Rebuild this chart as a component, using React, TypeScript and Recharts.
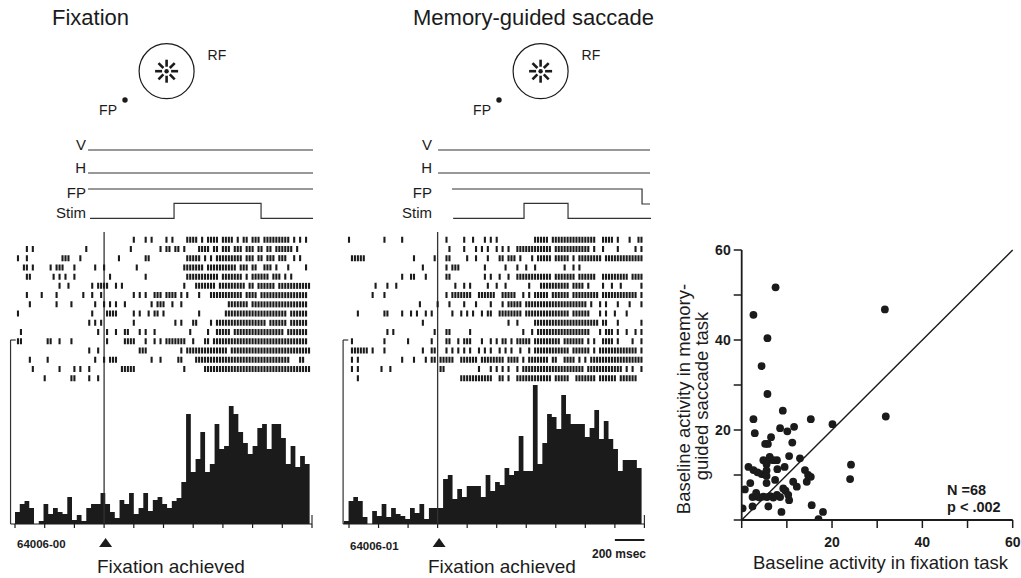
import {
  Area,
  ComposedChart,
  Line,
  LineChart,
  ReferenceDot,
  ReferenceLine,
  Scatter,
  ScatterChart,
  XAxis,
  YAxis,
} from "recharts";

const INK = "#1b1b1b";
const FONT = '"Liberation Sans", Arial, Helvetica, sans-serif';

const timeTicks = [-600, -400, -200, 0, 200, 400, 600, 800, 1000, 1200, 1400];

// peri-stimulus histograms, 32 ms bins
const histBinMs = 32;
const fixHistStart = -600;
const fixHist = [
  12, 20, 23, 16, 0, 3, 20, 10, 16, 12, 10, 27, 4, 9, 3, 16, 20, 20, 31, 20, 12, 6, 24, 20, 31, 10, 16,
  31, 13, 24, 27, 20, 16, 23, 26, 42, 110, 52, 65, 92, 52, 60, 100, 75, 78, 118, 110, 92, 81, 70, 78, 96,
  100, 75, 100, 100, 86, 60, 78, 57, 68, 60,
];
const memHistStart = -635;
const memHist = [
  3, 23, 27, 23, 7, 0, 13, 8, 20, 7, 16, 10, 8, 5, 16, 11, 20, 5, 16, 16, 16, 45, 49, 25, 35, 27, 38, 38,
  38, 27, 49, 33, 42, 39, 56, 49, 53, 88, 53, 53, 139, 60, 81, 110, 107, 95, 129, 110, 100, 100, 100, 87,
  96, 114, 85, 103, 85, 75, 53, 64, 64, 64, 56,
];

// rasters: one row per trial, spike slots of 20 ms counted from -600 ms
const rasterStart = -600;
const rasterSlotMs = 20;
const fixRaster = [
  [40, 44, 46, 51, 53, 58, 59, 60, 61, 63, 65, 66, 67, 68, 70, 71, 72, 73, 75, 77, 78, 80, 81, 82, 84, 85, 86, 87, 88, 89, 90, 91, 92, 94, 96, 98],
  [4, 6, 24, 39, 49, 51, 52, 54, 55, 57, 62, 63, 64, 65, 67, 68, 70, 71, 72, 74, 75, 76, 78, 79, 80, 82, 83, 85, 86, 88, 89, 90, 91, 92, 93, 95],
  [1, 4, 16, 17, 18, 22, 35, 44, 45, 58, 59, 60, 61, 62, 64, 66, 68, 69, 70, 71, 72, 73, 74, 75, 76, 78, 79, 80, 82, 83, 85, 86, 87, 89, 90, 91, 94, 96],
  [3, 4, 6, 12, 14, 15, 16, 20, 27, 30, 41, 57, 58, 59, 60, 61, 62, 63, 65, 66, 67, 68, 69, 70, 71, 72, 73, 74, 76, 77, 78, 80, 81, 84, 85, 86, 88, 92, 98],
  [4, 5, 13, 15, 17, 20, 32, 44, 58, 59, 60, 61, 62, 63, 64, 65, 66, 67, 68, 70, 71, 72, 73, 74, 75, 76, 78, 80, 81, 82, 83, 84, 85, 87, 88, 89, 91, 93],
  [15, 18, 26, 28, 29, 30, 31, 34, 36, 57, 61, 62, 63, 64, 65, 66, 67, 69, 70, 71, 72, 73, 74, 75, 76, 77, 79, 80, 82, 83, 84, 85, 86, 87, 89, 90, 91, 92, 93, 94, 95, 96, 97, 98, 99],
  [4, 9, 14, 23, 26, 29, 40, 42, 44, 47, 48, 49, 51, 52, 53, 54, 56, 58, 62, 66, 67, 68, 69, 70, 71, 72, 73, 74, 75, 76, 78, 79, 80, 81, 83, 84, 85, 86, 87, 88, 89, 90, 91, 92, 93, 94, 95, 96, 97, 98],
  [5, 14, 19, 27, 30, 32, 34, 37, 46, 48, 49, 50, 53, 56, 72, 73, 74, 75, 76, 77, 78, 80, 81, 82, 83, 84, 85, 86, 87, 88, 89, 90, 91, 92, 93, 94, 95, 96, 97, 98],
  [1, 26, 31, 32, 33, 34, 40, 42, 45, 47, 48, 50, 62, 71, 72, 73, 74, 75, 76, 77, 78, 79, 80, 81, 82, 83, 84, 85, 86, 87, 88, 89, 90, 91, 93, 94, 95, 96, 97, 98],
  [25, 27, 29, 40, 54, 56, 60, 61, 66, 68, 69, 70, 71, 72, 73, 74, 75, 76, 77, 78, 79, 80, 81, 82, 83, 84, 86, 87, 88, 89, 90, 91, 93, 94, 95, 96, 97, 98],
  [2, 28, 31, 34, 37, 38, 42, 44, 47, 59, 65, 68, 69, 70, 71, 72, 74, 75, 76, 77, 78, 79, 80, 81, 82, 83, 84, 85, 86, 87, 88, 89, 90, 92, 93, 94, 95, 96, 97, 98],
  [1, 2, 11, 12, 15, 19, 31, 37, 38, 39, 40, 44, 47, 49, 51, 52, 53, 54, 55, 56, 57, 60, 64, 65, 67, 68, 69, 70, 71, 72, 73, 74, 75, 76, 77, 78, 79, 80, 81, 82, 83, 84, 85, 86, 87, 88, 89, 90, 91, 92, 93, 94, 95, 96, 97, 98],
  [25, 28, 42, 43, 44, 56, 58, 59, 60, 61, 62, 63, 64, 65, 66, 67, 68, 69, 70, 71, 73, 74, 75, 76, 77, 78, 79, 80, 81, 82, 83, 84, 85, 86, 87, 88, 89, 90, 91, 92, 93, 94, 95, 96, 97, 98, 99],
  [5, 11, 27, 30, 32, 33, 34, 46, 49, 55, 56, 61, 62, 63, 64, 65, 66, 67, 68, 69, 70, 71, 72, 73, 74, 75, 76, 77, 78, 79, 80, 81, 82, 83, 84, 85, 86, 87, 88, 89, 90, 91, 92, 96, 97],
  [6, 15, 20, 22, 25, 36, 37, 38, 39, 40, 57, 64, 65, 66, 67, 68, 69, 70, 71, 72, 73, 74, 75, 76, 77, 78, 79, 80, 81, 82, 83, 84, 85, 86, 87, 88, 89, 90, 91, 92, 93, 94, 95, 96, 97, 98, 99],
  [10, 19, 20, 25, 28],
];
const memRaster = [
  [0, 12, 18, 33, 39, 42, 46, 48, 50, 63, 64, 65, 66, 67, 69, 70, 71, 72, 73, 74, 75, 76, 77, 78, 79, 80, 81, 82, 83, 86, 87, 88, 89, 91, 95, 98, 99],
  [34, 39, 43, 45, 47, 50, 52, 54, 57, 58, 59, 60, 61, 62, 63, 64, 65, 66, 67, 68, 70, 71, 72, 73, 74, 75, 76, 77, 78, 79, 80, 81, 83, 86, 91, 97, 99],
  [1, 2, 3, 4, 5, 22, 29, 33, 34, 40, 43, 47, 51, 52, 54, 55, 56, 58, 62, 64, 65, 66, 67, 68, 70, 71, 72, 73, 74, 76, 78, 79, 80, 81, 82, 83, 84, 85, 87, 88, 89, 90, 91, 92, 93, 94, 95, 96, 97, 98, 99],
  [25, 33, 35, 36, 37, 46, 53, 57, 60, 63, 73, 76, 78],
  [18, 21, 22, 26, 33, 34, 46, 48, 51, 54, 57, 58, 59, 60, 61, 62, 63, 64, 65, 66, 67, 68, 70, 71, 72, 73, 74, 75, 76, 78, 79, 80, 81, 82, 83, 86, 87, 88, 89, 90, 91, 92, 93, 94, 96, 97, 98, 99],
  [9, 13, 16, 36, 39, 41, 47, 50, 53, 61, 65, 66, 67, 68, 69, 70, 71, 72, 73, 74, 76, 77, 78, 79, 81, 86, 89, 92, 99],
  [8, 12, 33, 35, 36, 37, 38, 39, 40, 41, 44, 45, 46, 47, 48, 49, 52, 53, 54, 55, 56, 59, 61, 63, 64, 65, 66, 67, 69, 70, 71, 72, 73, 74, 76, 77, 78, 79, 80, 81, 82, 83, 84, 86, 87, 88, 89, 90, 91, 92, 93, 94, 95, 96, 97, 99],
  [24, 30, 34, 39, 43, 48, 52, 54, 55, 56, 57, 58, 60, 61, 62, 63, 64, 65, 66, 67, 68, 69, 70, 71, 72, 73, 74, 75, 76, 77, 78, 79, 80, 82, 85, 87, 91, 95, 99],
  [3, 12, 13, 18, 21, 23, 26, 28, 35, 38, 40, 42, 45, 47, 48, 51, 52, 53, 54, 55, 56, 57, 58, 60, 61, 62, 63, 64, 65, 66, 67, 68, 69, 70, 71, 72, 73, 74, 76, 77, 78, 79, 80, 81, 85, 87, 90, 94],
  [25, 54, 57, 63, 64, 65, 66, 67, 68, 69, 70, 71, 72, 73, 74, 75, 76, 77, 78, 79, 80, 81, 82, 83, 84, 86, 87, 91, 99],
  [13, 15, 29, 33, 34, 41, 59, 62, 64, 65, 66, 67, 68, 69, 70, 71, 72, 73, 74, 75, 76, 77, 78, 79, 80, 81, 85, 87, 88, 89, 91, 94, 97, 99],
  [1, 12, 20, 28, 33, 34, 37, 39, 40, 41, 45, 48, 50, 52, 53, 55, 57, 58, 59, 60, 61, 63, 64, 65, 66, 67, 68, 69, 70, 71, 73, 74, 75, 76, 77, 78, 79, 81, 83, 86, 87, 88, 89, 91, 96, 99],
  [1, 2, 3, 4, 5, 6, 8, 12, 25, 28, 29, 33, 35, 37, 39, 41, 44, 46, 48, 51, 53, 55, 58, 61, 63, 64, 65, 66, 67, 68, 69, 70, 71, 72, 73, 74, 76, 77, 78, 79, 80, 81, 83, 85, 86, 87, 88, 89, 90, 91, 92, 93, 94, 95, 96, 97, 99],
  [1, 3, 18, 22, 26, 28, 29, 31, 32, 33, 34, 35, 38, 39, 40, 41, 42, 43, 45, 46, 47, 48, 49, 50, 51, 52, 54, 55, 56, 57, 59, 61, 62, 63, 64, 65, 66, 67, 69, 70, 73, 74, 75, 76, 78, 80, 82, 83, 84, 85, 86, 87, 88, 89, 90, 91, 92, 93, 94, 95, 96, 97, 98, 99],
  [1, 3, 11, 14, 31, 32, 44, 48, 50, 52, 54, 57, 59, 60, 61, 62, 63, 64, 65, 66, 67, 68, 69, 70, 71, 72, 73, 74, 75, 76, 77, 78, 79, 81, 82, 83, 84, 85, 86, 87, 88, 89, 90, 91, 92, 94, 96, 99],
  [3, 38, 39, 40, 41, 42, 43, 44, 45, 46, 47, 48, 51, 52, 54, 57, 58, 59, 60, 61, 62, 63, 64, 65, 66, 67, 68, 70, 71, 72, 73, 74, 77, 78, 79, 80, 81, 82, 83, 85, 86, 87, 88, 89, 90, 92, 93, 94, 95, 96, 97],
];

// task event traces (v: 0 off / 1 on)
const fixV = [{ t: -108, v: 0 }, { t: 1407, v: 0 }];
const fixH = [{ t: -108, v: 0 }, { t: 1407, v: 0 }];
const fixFP = [{ t: -108, v: 1 }, { t: 1407, v: 1 }];
const fixStim = [{ t: -95, v: 0 }, { t: 471, v: 1 }, { t: 1057, v: 0 }, { t: 1407, v: 0 }];
const memV = [{ t: 3, v: 0 }, { t: 1438, v: 0 }];
const memH = [{ t: 3, v: 0 }, { t: 1438, v: 0 }];
const memFP = [{ t: 97, v: 1 }, { t: 1384, v: 0 }, { t: 1438, v: 0 }];
const memStim = [{ t: 105, v: 0 }, { t: 585, v: 1 }, { t: 883, v: 0 }, { t: 1445, v: 0 }];

// target layout: fixation point and receptive field centre (arbitrary deg)
const fpSpot = [{ x: 0, y: 0 }];
const rfSpot = [{ x: 10.4, y: 7.2 }];

// population scatter (spikes/s)
const fixBaseline = [
  7.5, 2.6, 5.7, 4.4, 5.7, 31.7, 31.9, 2.6, 9.1, 15.3, 20.1, 2.9, 8.5, 10.1, 11.6, 6.5, 5.2, 5.8, 11.2,
  10.5, 4.8, 5.9, 7.0, 7.8, 1.5, 2.6, 3.5, 4.4, 5.5, 5.5, 5.5, 7.9, 12.9, 14, 14.7, 15.3, 14.4, 11.4, 12.2,
  7.4, 1.9, 0.7, 5.5, 9.2, 9.7, 10.3, 10.5, 2.4, 3.3, 4.0, 4.8, 5.6, 6.3, 7.0, 7.8, 8.5, 5.9, 2.4, 0.2, 8.8,
  15.5, 18, 17, 24.2, 24, 6.2, 3.2, 9.5,
];
const memBaseline = [
  51.7, 45.6, 40.4, 34.2, 28, 46.8, 23, 22.4, 24.3, 22.4, 21.3, 19.3, 20.4, 19.7, 20.7, 18.4, 16.9, 16.9,
  17.2, 14.2, 13.3, 13.3, 13.3, 13.3, 11.8, 11.1, 10.6, 10.2, 12.4, 11, 9.8, 11.3, 13.7, 11.1, 10, 9.6, 8.5,
  8.5, 7.4, 8.9, 8.2, 6.8, 8.2, 7, 6.5, 5.6, 4.4, 5.1, 5.2, 5.0, 5.2, 5.1, 5.3, 5.0, 5.6, 5.1, 3.0, 3.0,
  2.6, 1.8, 3.3, 1.8, 0.2, 12.3, 9.1, 14, 6, 11.8,
];
const scatterTicks = [0, 10, 20, 30, 40, 50, 60];
const scatterLabels = [20, 40, 60];

type Pt = { t: number; v: number };

const traceRows = [
  { name: "V", base: 75, amp: 0, labelDy: 0, labelV: 0 },
  { name: "H", base: 52, amp: 0, labelDy: 0, labelV: 0 },
  { name: "FP", base: 21, amp: 15, labelDy: 9, labelV: 1 },
  { name: "Stim", base: 6.7, amp: 15, labelDy: 0, labelV: 0 },
];

function histPoints(bins: number[], start: number) {
  const pts = bins.map((h, i) => ({ t: start + i * histBinMs, h }));
  pts.push({ t: start + bins.length * histBinMs, h: bins[bins.length - 1] });
  return pts;
}

function rasterPoints(rows: number[][]) {
  return rows.flatMap((slots, row) => slots.map((s) => ({ t: rasterStart + s * rasterSlotMs, row })));
}

const RasterTick = (props: any) => (
  <line x1={props.cx} x2={props.cx} y1={props.cy - 3} y2={props.cy + 3} stroke={INK} strokeWidth={2.1} />
);

const FixationMarkTick = (props: any) => {
  const { x, y, payload } = props;
  if (payload.value !== 0) return <g />;
  return <path d={`M${x + 1.5},${y + 8} l6.5,9 h-13 z`} fill={INK} />;
};

const traceLabel = (name: string, dy: number) => (props: any) => (
  <text x={props.cx} y={props.cy + dy} textAnchor="end" fontSize={15} fill={INK}>
    {name}
  </text>
);

const FixSpot = (props: any) => (
  <g>
    <circle cx={props.cx} cy={props.cy} r={2.7} fill={INK} />
    <text x={props.cx - 8} y={props.cy + 15} textAnchor="end" fontSize={14} fill={INK}>
      FP
    </text>
  </g>
);

const RfField = (props: any) => {
  const { cx, cy } = props;
  const angles = [0, 45, 90, 135, 180, 225, 270, 315];
  return (
    <g>
      <circle cx={cx} cy={cy} r={27.5} fill="none" stroke={INK} strokeWidth={1.2} />
      {angles.map((a) => {
        const r = (a * Math.PI) / 180;
        return (
          <line
            key={a}
            x1={cx + 4.5 * Math.cos(r)}
            y1={cy + 4.5 * Math.sin(r)}
            x2={cx + 11.5 * Math.cos(r)}
            y2={cy + 11.5 * Math.sin(r)}
            stroke={INK}
            strokeWidth={2.6}
          />
        );
      })}
      <circle cx={cx} cy={cy} r={2.2} fill={INK} />
      <text x={cx + 41} y={cy - 11} fontSize={14} fill={INK}>
        RF
      </text>
    </g>
  );
};

type PanelSpec = {
  left: number;
  plotLeft: number;
  tMin: number;
  pxPerMs: number;
  labelT: number;
  fpX: number;
  hist: number[];
  histStart: number;
  raster: number[][];
  traces: Pt[][];
  scaleBar?: boolean;
};

function TaskPanel({ spec }: { spec: PanelSpec }) {
  const marginLeft = spec.plotLeft - spec.left;
  const mainW = marginLeft + (1400 - spec.tMin) * spec.pxPerMs + 5;
  const traceW = marginLeft + (1450 - spec.tMin) * spec.pxPerMs + 2;
  const histData = histPoints(spec.hist, spec.histStart);
  const rasterData = rasterPoints(spec.raster);

  return (
    <>
      <div style={{ position: "absolute", left: spec.fpX - 48, top: 40 }}>
        <ScatterChart width={152} height={84} margin={{ top: 0, right: 0, bottom: 0, left: 0 }}>
          <XAxis type="number" dataKey="x" domain={[-12, 26]} hide allowDataOverflow />
          <YAxis type="number" dataKey="y" domain={[-6, 15]} hide allowDataOverflow />
          <Scatter data={fpSpot} shape={FixSpot} isAnimationActive={false} />
          <Scatter data={rfSpot} shape={RfField} isAnimationActive={false} />
        </ScatterChart>
      </div>

      <div style={{ position: "absolute", left: spec.left, top: 130 }}>
        <LineChart width={traceW} height={95} margin={{ top: 10, right: 2, bottom: 0, left: marginLeft }}>
          <XAxis type="number" dataKey="t" domain={[spec.tMin, 1450]} hide allowDataOverflow />
          <YAxis type="number" domain={[0, 85]} hide allowDataOverflow />
          {traceRows.map((row, i) => (
            <Line
              key={row.name}
              data={spec.traces[i].map((p) => ({ t: p.t, y: row.base + p.v * row.amp }))}
              dataKey="y"
              type="stepAfter"
              stroke="#333"
              strokeWidth={1.2}
              dot={false}
              activeDot={false}
              isAnimationActive={false}
            />
          ))}
          {traceRows.map((row) => (
            <ReferenceDot
              key={`lab-${row.name}`}
              x={spec.labelT}
              y={row.base + row.labelV * row.amp}
              r={0}
              shape={traceLabel(row.name, row.labelDy)}
            />
          ))}
        </LineChart>
      </div>

      <div style={{ position: "absolute", left: spec.left, top: 222 }}>
        <ComposedChart width={mainW} height={332} margin={{ top: 10, right: 5, bottom: 0, left: marginLeft }}>
          <XAxis
            type="number"
            dataKey="t"
            domain={[spec.tMin, 1400]}
            allowDataOverflow
            ticks={timeTicks}
            interval={0}
            tickSize={4}
            height={30}
            axisLine={{ stroke: INK, strokeWidth: 1.2 }}
            tickLine={{ stroke: INK, strokeWidth: 1.2 }}
            tick={FixationMarkTick}
          />
          <YAxis yAxisId="hist" type="number" domain={[0, 292]} hide allowDataOverflow />
          <YAxis
            yAxisId="raster"
            type="number"
            dataKey="row"
            domain={[-0.83, 30.77]}
            reversed
            hide
            allowDataOverflow
          />
          <Area
            yAxisId="hist"
            data={histData}
            dataKey="h"
            type="stepAfter"
            stroke="none"
            fill={INK}
            fillOpacity={1}
            dot={false}
            activeDot={false}
            isAnimationActive={false}
          />
          <Scatter yAxisId="raster" data={rasterData} shape={RasterTick} isAnimationActive={false} />
          <ReferenceLine yAxisId="hist" x={0} stroke="#333" strokeWidth={1.3} />
          <ReferenceLine
            yAxisId="hist"
            ifOverflow="visible"
            segment={[{ x: spec.tMin, y: 0 }, { x: spec.tMin, y: 184 }]}
            stroke="#333"
            strokeWidth={1.2}
          />
          <ReferenceLine
            yAxisId="hist"
            ifOverflow="visible"
            segment={[{ x: spec.tMin, y: 184 }, { x: spec.tMin + 35, y: 184 }]}
            stroke="#333"
            strokeWidth={1.2}
          />
          <ReferenceLine
            yAxisId="hist"
            ifOverflow="visible"
            segment={[{ x: 1400, y: 0 }, { x: 1400, y: 9 }]}
            stroke="#333"
            strokeWidth={1.2}
          />
          {spec.scaleBar ? (
            <ReferenceLine
              yAxisId="hist"
              ifOverflow="visible"
              segment={[{ x: 1200, y: -16 }, { x: 1400, y: -16 }]}
              stroke={INK}
              strokeWidth={2}
            />
          ) : null}
        </ComposedChart>
      </div>
    </>
  );
}

const fixSpec: PanelSpec = {
  left: 0,
  plotLeft: 10.55,
  tMin: -630,
  pxPerMs: 0.1485,
  labelT: -122,
  fpX: 125,
  hist: fixHist,
  histStart: fixHistStart,
  raster: fixRaster,
  traces: [fixV, fixH, fixFP, fixStim],
};

const memSpec: PanelSpec = {
  left: 330,
  plotLeft: 343.1,
  tMin: -640,
  pxPerMs: 0.1477,
  labelT: -38,
  fpX: 499,
  hist: memHist,
  histStart: memHistStart,
  raster: memRaster,
  traces: [memV, memH, memFP, memStim],
  scaleBar: true,
};

const scatterData = fixBaseline.map((x, i) => ({ x, y: memBaseline[i] }));

const CellDot = (props: any) => <circle cx={props.cx} cy={props.cy} r={3.9} fill={INK} />;

const tickStyle = { fill: INK, fontSize: 14, fontWeight: 700 };
const showTick = (v: number) => (scatterLabels.includes(v) ? String(v) : "");

export default function App() {
  return (
    <div
      style={{
        position: "absolute",
        left: 0,
        top: 0,
        width: 1021,
        height: 578,
        background: "#fff",
        fontFamily: FONT,
        color: INK,
        overflow: "hidden",
      }}
    >
      <TaskPanel spec={fixSpec} />
      <TaskPanel spec={memSpec} />

      <div style={{ position: "absolute", left: 690, top: 240 }}>
        <ScatterChart width={331} height={310} margin={{ top: 10, right: 8.3, bottom: 0, left: 11.7 }}>
          <XAxis
            type="number"
            dataKey="x"
            domain={[0, 60]}
            allowDataOverflow
            ticks={scatterTicks}
            interval={0}
            tickFormatter={showTick}
            tickSize={8}
            tickMargin={9}
            height={30}
            axisLine={{ stroke: INK, strokeWidth: 1.8 }}
            tickLine={{ stroke: INK, strokeWidth: 1.5 }}
            tick={tickStyle}
          />
          <YAxis
            type="number"
            dataKey="y"
            domain={[0, 60]}
            allowDataOverflow
            ticks={scatterTicks}
            interval={0}
            tickFormatter={showTick}
            tickSize={8}
            tickMargin={3}
            width={40}
            axisLine={{ stroke: INK, strokeWidth: 1.8 }}
            tickLine={{ stroke: INK, strokeWidth: 1.5 }}
            tick={tickStyle}
          />
          <ReferenceLine
            segment={[{ x: 0, y: 0 }, { x: 60, y: 60 }]}
            stroke={INK}
            strokeWidth={1.4}
          />
          <Scatter data={scatterData} shape={CellDot} isAnimationActive={false} />
        </ScatterChart>
      </div>

      <svg
        width={1021}
        height={578}
        style={{ position: "absolute", left: 0, top: 0, pointerEvents: "none" }}
      >
        <g fill={INK} fontFamily={FONT}>
          <text x={52} y={25} fontSize={22}>Fixation</text>
          <text x={413} y={25} fontSize={22}>Memory-guided saccade</text>
          <text x={17} y={548} fontSize={11.5} fontWeight={700}>64006-00</text>
          <text x={350} y={550} fontSize={11.5} fontWeight={700}>64006-01</text>
          <text x={97} y={573} fontSize={19}>Fixation achieved</text>
          <text x={428} y={573} fontSize={19}>Fixation achieved</text>
          <text x={592} y={558} fontSize={12} fontWeight={700}>200 msec</text>
          <text x={753} y={569} fontSize={18.5}>Baseline activity in fixation task</text>
          <text transform="translate(690 399) rotate(-90)" textAnchor="middle" fontSize={18.5}>
            Baseline activity in memory-
          </text>
          <text transform="translate(708 396) rotate(-90)" textAnchor="middle" fontSize={18.5}>
            guided saccade task
          </text>
          <text x={947} y={495} fontSize={14.5} fontWeight={700}>N =68</text>
          <text x={947} y={512} fontSize={14.5} fontWeight={700}>p &lt; .002</text>
        </g>
      </svg>
    </div>
  );
}
